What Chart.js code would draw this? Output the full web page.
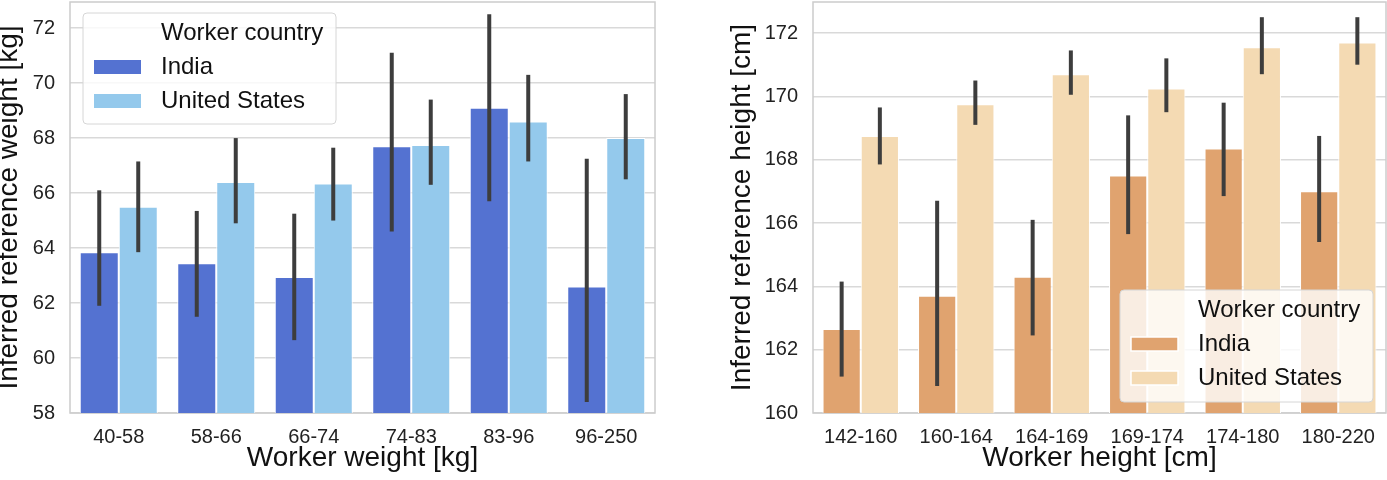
<!DOCTYPE html>
<html>
<head>
<meta charset="utf-8">
<script src="https://cdn.jsdelivr.net/npm/chart.js@4"></script>
<style>
  body { margin:0; background:#fff; width:1387px; height:480px; overflow:hidden; }
  .box { position:absolute; top:0; height:480px; }
</style>
</head>
<body>
<div class="box" style="left:0;width:660px"><canvas id="weightChart"></canvas></div>
<div class="box" style="left:700px;width:687px"><canvas id="heightChart"></canvas></div>
<script>
// === DATA ===
const countries = ["India", "United States"];

const weightBins = ["40-58", "58-66", "66-74", "74-83", "83-96", "96-250"];
const weightIndia = [63.85, 63.45, 62.95, 67.7, 69.1, 62.6];
const weightIndiaLo = [61.9, 61.5, 60.65, 64.6, 65.7, 58.4];
const weightIndiaHi = [66.1, 65.35, 65.25, 71.1, 72.5, 67.25];
const weightUS = [65.5, 66.4, 66.35, 67.75, 68.6, 68.0];
const weightUSLo = [63.85, 64.9, 65.0, 66.3, 67.15, 66.5];
const weightUSHi = [67.15, 68.0, 67.65, 69.4, 70.3, 69.6];
const weightTicks = [58, 60, 62, 64, 66, 68, 70, 72];

const heightBins = ["142-160", "160-164", "164-169", "169-174", "174-180", "180-220"];
const heightIndia = [162.65, 163.7, 164.3, 167.5, 168.35, 167.0];
const heightIndiaLo = [161.15, 160.85, 162.45, 165.65, 166.85, 165.4];
const heightIndiaHi = [164.15, 166.7, 166.1, 169.4, 169.8, 168.75];
const heightUS = [168.75, 169.75, 170.7, 170.25, 171.55, 171.7];
const heightUSLo = [167.85, 169.1, 170.05, 169.5, 170.7, 171.0];
const heightUSHi = [169.65, 170.5, 171.45, 171.2, 172.5, 172.5];
const heightTicks = [160, 162, 164, 166, 168, 170, 172];

const FONT = "'Liberation Sans', Arial, sans-serif";

// === PLUGINS ===
const errorBars = {
  id: "errorBars",
  afterDatasetsDraw(chart) {
    const ctx = chart.ctx, y = chart.scales.y;
    ctx.save();
    ctx.strokeStyle = "#3d3d3d";
    ctx.lineWidth = 4;
    chart.data.datasets.forEach((ds, i) => {
      chart.getDatasetMeta(i).data.forEach((bar, j) => {
        ctx.beginPath();
        ctx.moveTo(bar.x, y.getPixelForValue(ds.errLo[j]));
        ctx.lineTo(bar.x, y.getPixelForValue(ds.errHi[j]));
        ctx.stroke();
      });
    });
    ctx.restore();
  }
};

const frame = {
  id: "frame",
  beforeDatasetsDraw(chart) {
    const a = chart.chartArea, ctx = chart.ctx;
    ctx.save();
    ctx.strokeStyle = "#cccccc";
    ctx.lineWidth = 1.5;
    ctx.strokeRect(a.left, a.top, a.right - a.left, a.bottom - a.top);
    ctx.restore();
  }
};

const boxLegend = {
  id: "boxLegend",
  afterDraw(chart, args, o) {
    const ctx = chart.ctx;
    ctx.save();
    ctx.fillStyle = "rgba(255,255,255,0.8)";
    ctx.strokeStyle = "#d6d6d6";
    ctx.lineWidth = 1;
    ctx.beginPath();
    ctx.roundRect(o.x, o.y, o.w, o.h, 4);
    ctx.fill();
    ctx.stroke();
    ctx.font = "24px " + FONT;
    ctx.fillStyle = "#111";
    ctx.textBaseline = "middle";
    ctx.fillText("Worker country", o.textX, o.y + 20);
    chart.data.datasets.forEach((ds, i) => {
      const cy = o.y + 54 + i * 34;
      ctx.fillStyle = ds.backgroundColor;
      ctx.fillRect(o.x + 11, cy - 7, 47, 14);
      if (o.swatchEdge) {
        ctx.strokeStyle = "#fff";
        ctx.lineWidth = 1.5;
        ctx.strokeRect(o.x + 11, cy - 7, 47, 14);
      }
      ctx.fillStyle = "#111";
      ctx.fillText(ds.label, o.textX, cy);
    });
    ctx.restore();
  }
};

function makeChart(id, bins, sets, colors, ticks, yMin, yMax, xTitle, yTitle, yWidth, rightPad, titlePad, legendOpts) {
  const ctx = document.getElementById(id).getContext("2d");
  return new Chart(ctx, {
    type: "bar",
    data: {
      labels: bins,
      datasets: sets.map((s, i) => ({
        label: countries[i],
        data: s.values,
        errLo: s.lo,
        errHi: s.hi,
        backgroundColor: colors[i],
        borderColor: "#ffffff",
        borderWidth: 1,
        borderSkipped: false,
        categoryPercentage: 0.8,
        barPercentage: 1.0
      }))
    },
    options: {
      responsive: true,
      maintainAspectRatio: false,
      animation: false,
      layout: { padding: { top: 2, right: rightPad, left: 0, bottom: 0 } },
      plugins: { legend: { display: false }, tooltip: { enabled: false }, boxLegend: legendOpts },
      scales: {
        x: {
          grid: { display: false },
          border: { display: false },
          ticks: { color: "#222", font: { family: FONT, size: 20 }, padding: 4, maxRotation: 0 },
          title: { display: true, text: xTitle, color: "#111", font: { family: FONT, size: 28 }, padding: { top: 0, bottom: 5 } },
          afterFit: s => { s.height = 67; s.paddingLeft = 0; s.paddingRight = 0; }
        },
        y: {
          min: yMin, max: yMax,
          afterBuildTicks: s => { s.ticks = ticks.map(v => ({ value: v })); },
          grid: { color: "#d9d9d9", lineWidth: 1.4, drawTicks: false },
          border: { display: false },
          ticks: { color: "#222", font: { family: FONT, size: 20 }, padding: 15 },
          title: { display: true, text: yTitle, color: "#111", font: { family: FONT, size: 28 }, padding: { top: titlePad, bottom: 0 } },
          afterFit: s => { s.width = yWidth; s.paddingTop = 0; s.paddingBottom = 0; }
        }
      }
    },
    plugins: [frame, errorBars, boxLegend]
  });
}

makeChart("weightChart", weightBins,
  [{ values: weightIndia, lo: weightIndiaLo, hi: weightIndiaHi },
   { values: weightUS, lo: weightUSLo, hi: weightUSHi }],
  ["#5472d1", "#94c9ec"], weightTicks, 58, 72.95,
  "Worker weight [kg]", "Inferred reference weight [kg]", 70, 5, -8,
  { x: 83, y: 13, w: 253, h: 111, textX: 161, swatchEdge: false });

makeChart("heightChart", heightBins,
  [{ values: heightIndia, lo: heightIndiaLo, hi: heightIndiaHi },
   { values: heightUS, lo: heightUSLo, hi: heightUSHi }],
  ["#e0a36f", "#f4dab3"], heightTicks, 160, 172.98,
  "Worker height [cm]", "Inferred reference height [cm]", 113, 1, 25,
  { x: 420, y: 290, w: 253, h: 112, textX: 498, swatchEdge: true });
</script>
</body>
</html>
